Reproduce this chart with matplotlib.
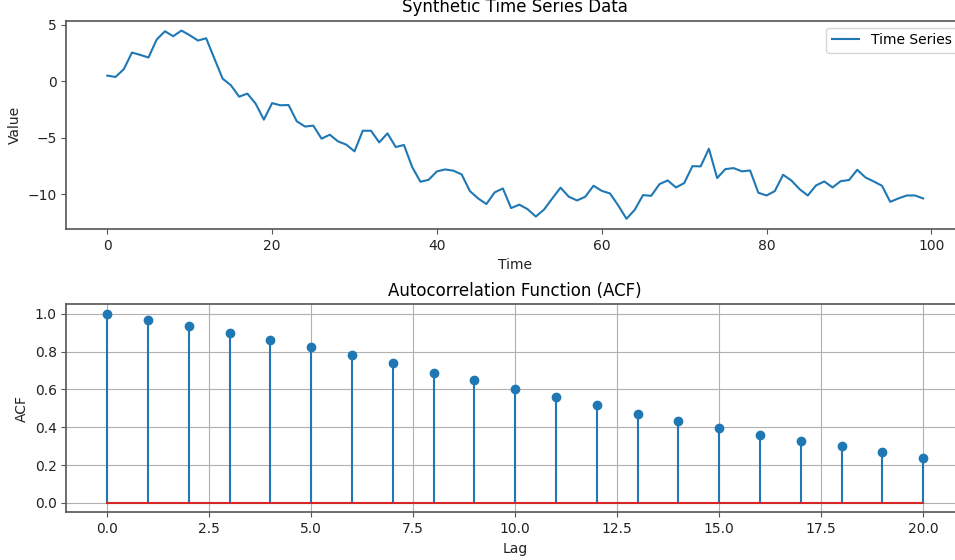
import matplotlib
matplotlib.use("Agg")
import matplotlib.pyplot as plt
import numpy as np

# Synthetic time series (t = 0 .. 99)
time_index = list(range(100))
series_values = [
    0.50, 0.38, 1.06, 2.54, 2.33, 2.10, 3.69, 4.42, 3.98, 4.48,
    4.07, 3.60, 3.80, 2.00, 0.23, -0.35, -1.36, -1.09, -1.97, -3.39,
    -1.93, -2.12, -2.10, -3.54, -4.00, -3.92, -5.07, -4.72, -5.31, -5.60,
    -6.19, -4.37, -4.37, -5.40, -4.60, -5.81, -5.63, -7.58, -8.88, -8.70,
    -7.96, -7.79, -7.90, -8.23, -9.70, -10.35, -10.85, -9.82, -9.47, -11.20,
    -10.90, -11.30, -11.95, -11.33, -10.35, -9.40, -10.20, -10.53, -10.20, -9.23,
    -9.68, -9.91, -10.97, -12.15, -11.36, -10.06, -10.12, -9.09, -8.76, -9.38,
    -9.00, -7.50, -7.52, -5.96, -8.55, -7.76, -7.67, -7.96, -7.88, -9.85,
    -10.09, -9.70, -8.26, -8.76, -9.53, -10.09, -9.20, -8.85, -9.38, -8.82,
    -8.73, -7.82, -8.50, -8.85, -9.23, -10.65, -10.35, -10.09, -10.09, -10.35,
]

# Autocorrelation by lag
lags = list(range(21))
acf_values = [
    1.000, 0.966, 0.933, 0.899, 0.860, 0.823, 0.781, 0.737, 0.689, 0.648,
    0.602, 0.562, 0.516, 0.470, 0.433, 0.394, 0.359, 0.327, 0.299, 0.269,
    0.237,
]

spine_grey = "#555555"
plt.rcParams["axes.edgecolor"] = spine_grey
plt.rcParams["axes.linewidth"] = 1.2
plt.rcParams["xtick.color"] = spine_grey
plt.rcParams["ytick.color"] = spine_grey
plt.rcParams["xtick.labelcolor"] = "#222222"
plt.rcParams["ytick.labelcolor"] = "#222222"
plt.rcParams["axes.labelcolor"] = "#222222"

fig = plt.figure(figsize=(9.55, 5.6), dpi=100)
# The panels run slightly past the right edge of the canvas
ax1 = fig.add_axes([0.0696, 0.5911, 0.9398, 0.3719])
ax2 = fig.add_axes([0.0696, 0.0852, 0.9398, 0.3714])

ax1.plot(time_index, series_values, color="C0", label="Time Series")
ax1.set_title("Synthetic Time Series Data")
ax1.set_xlabel("Time")
ax1.set_ylabel("Value")
ax1.set_xticks([0, 20, 40, 60, 80, 100])
ax1.set_yticks([-10, -5, 0, 5])
ax1.set_xlim(-4.95, 103.95)
ax1.set_ylim(-13.05, 5.35)
ax1.legend(loc="upper right")

markerline, stemlines, baseline = ax2.stem(lags, acf_values, basefmt="C3-")
ax2.set_title("Autocorrelation Function (ACF)")
ax2.set_xlabel("Lag")
ax2.set_ylabel("ACF")
ax2.set_xlim(-1.0, 21.0)
ax2.set_ylim(-0.05, 1.05)
ax2.grid(True)

fig.savefig("out.png", dpi=100)
